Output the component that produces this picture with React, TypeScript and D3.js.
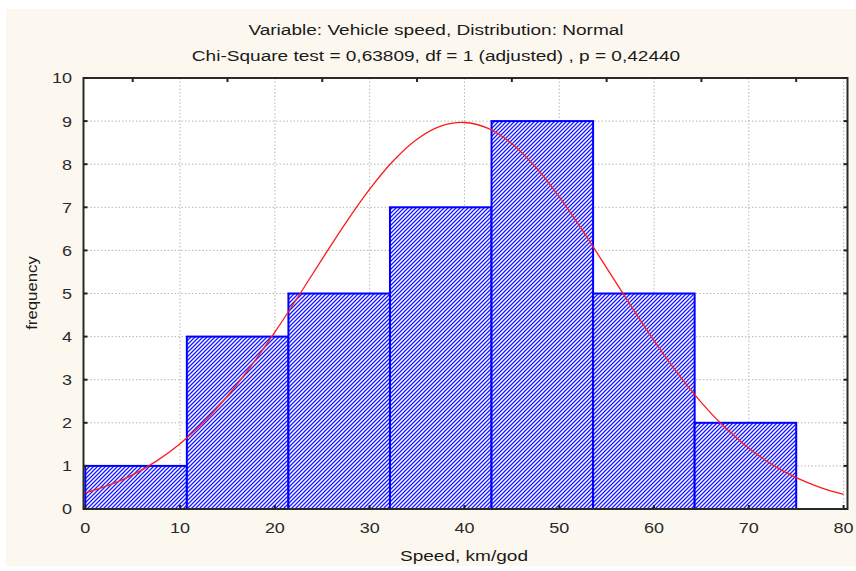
import React from "react";
import * as d3 from "d3";

const binEdges = [0, 10.714, 21.429, 32.143, 42.857, 53.571, 64.286, 75];
const frequencies = [1, 4, 5, 7, 9, 5, 2];
const curveX = [0, 2.5, 5, 7.5, 10, 12.5, 15, 17.5, 20, 22.5, 25, 27.5, 30, 32.5, 35, 37.5, 40, 42.5, 45, 47.5, 50, 52.5, 55, 57.5, 60, 62.5, 65, 67.5, 70, 72.5, 75, 77.5, 80];
const curveY = [0.374, 0.552, 0.792, 1.11, 1.516, 2.019, 2.622, 3.322, 4.103, 4.942, 5.803, 6.645, 7.42, 8.08, 8.58, 8.883, 8.968, 8.829, 8.477, 7.935, 7.243, 6.447, 5.596, 4.736, 3.908, 3.146, 2.469, 1.889, 1.409, 1.025, 0.728, 0.503, 0.34];
const xTicks = [0, 10, 20, 30, 40, 50, 60, 70, 80];
const xTopTicks = [5, 15, 25, 35, 45, 55, 65, 75];
const yTicks = [0, 1, 2, 3, 4, 5, 6, 7, 8, 9, 10];
const title = "Variable: Vehicle speed, Distribution: Normal";
const subtitle = "Chi-Square test = 0,63809, df = 1 (adjusted) , p = 0,42440";
const xLabel = "Speed, km/god";
const yLabel = "frequency";

export default function App() {
  const W = 856, H = 571;
  const frame = { left: 83.5, right: 847.5, top: 78, bottom: 509 };
  const x = d3.scaleLinear().domain([0, 80]).range([85.3, 843.6]);
  const y = d3.scaleLinear().domain([0, 10]).range([509, 78]);
  const line = d3.line<number>().x((_, i) => x(curveX[i])).y((d) => y(d)).curve(d3.curveCatmullRom);
  const font = "'Liberation Sans', Arial, sans-serif";
  const wide = 1.36;
  const tickWide = 1.2;
  return (
    <svg width={W} height={H} style={{ position: "absolute", left: 0, top: 0 }}>
      <defs>
        <pattern id="hatch" patternUnits="userSpaceOnUse" width={4} height={4}>
          <rect width={4} height={4} fill="#ffffff" />
          <path d="M-1,1 L1,-1 M0,4 L4,0 M3,5 L5,3" stroke="#1a1aff" strokeWidth={1.3} />
        </pattern>
        <clipPath id="plotclip">
          <rect x={frame.left} y={frame.top} width={frame.right - frame.left} height={frame.bottom - frame.top} />
        </clipPath>
      </defs>
      <rect x={0} y={0} width={W} height={H} fill="#ffffff" />
      <rect x={6} y={9} width={W - 6} height={566 - 9} fill="#fdf8ef" />
      <rect x={frame.left} y={frame.top} width={frame.right - frame.left} height={frame.bottom - frame.top} fill="#ffffff" />
      {xTicks.slice(1).map((t) => (
        <line key={"gx" + t} x1={x(t)} x2={x(t)} y1={frame.top} y2={frame.bottom} stroke="#b8b8b8" strokeDasharray="1.5,2" strokeWidth={1} />
      ))}
      {yTicks.slice(1, 10).map((t) => (
        <line key={"gy" + t} x1={frame.left} x2={frame.right} y1={y(t)} y2={y(t)} stroke="#b8b8b8" strokeDasharray="1.5,2" strokeWidth={1} />
      ))}
      {frequencies.map((f, i) => (
        <rect
          key={"b" + i}
          x={x(binEdges[i])}
          y={y(f)}
          width={x(binEdges[i + 1]) - x(binEdges[i])}
          height={y(0) - y(f)}
          fill="url(#hatch)"
          stroke="#0000ff"
          strokeWidth={2}
        />
      ))}
      <path d={line(curveY) || ""} fill="none" stroke="#ff1a1a" strokeWidth={1.3} clipPath="url(#plotclip)" />
      <rect x={frame.left} y={frame.top} width={frame.right - frame.left} height={frame.bottom - frame.top} fill="none" stroke="#2a2a2a" strokeWidth={2} />
      {xTicks.map((t) => (
        <line key={"tb" + t} x1={x(t)} x2={x(t)} y1={frame.bottom} y2={frame.bottom - 4} stroke="#222" strokeWidth={2} />
      ))}
      {xTopTicks.map((t) => (
        <line key={"tt" + t} x1={x(t)} x2={x(t)} y1={frame.top} y2={frame.top + 4} stroke="#222" strokeWidth={2} />
      ))}
      {yTicks.map((t) => (
        <g key={"ty" + t}>
          <line x1={frame.left} x2={frame.left + 4} y1={y(t)} y2={y(t)} stroke="#222" strokeWidth={2} />
          <line x1={frame.right} x2={frame.right - 4} y1={y(t)} y2={y(t)} stroke="#222" strokeWidth={2} />
        </g>
      ))}
      {yTicks.map((t) => (
        <text key={"ly" + t} transform={`translate(72,${y(t)}) scale(${tickWide},1)`} dy="0.36em" textAnchor="end" fontFamily={font} fontSize={15} fill="#2a2a2a">
          {t}
        </text>
      ))}
      {xTicks.map((t) => (
        <text key={"lx" + t} transform={`translate(${x(t)},528) scale(${tickWide},1)`} dy="0.36em" textAnchor="middle" fontFamily={font} fontSize={15} fill="#2a2a2a">
          {t}
        </text>
      ))}
      <text transform={`translate(436,35) scale(${wide},1)`} textAnchor="middle" fontFamily={font} fontSize={14} fill="#1a1a1a">{title}</text>
      <text transform={`translate(436,61) scale(${wide},1)`} textAnchor="middle" fontFamily={font} fontSize={14} fill="#1a1a1a">{subtitle}</text>
      <text transform={`translate(464,561) scale(${wide},1)`} textAnchor="middle" fontFamily={font} fontSize={14} fill="#1a1a1a">{xLabel}</text>
      <text transform="translate(37,293) rotate(-90) scale(1.2,1)" textAnchor="middle" fontFamily={font} fontSize={14} fill="#1a1a1a">{yLabel}</text>
    </svg>
  );
}
